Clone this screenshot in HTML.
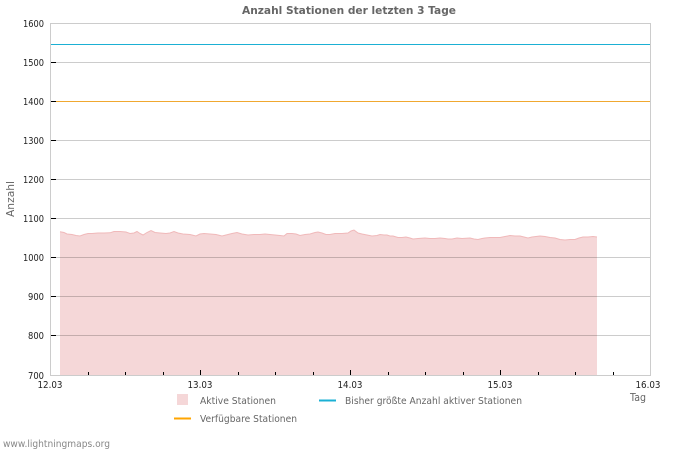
<!DOCTYPE html>
<html>
<head>
<meta charset="utf-8">
<style>
html,body{margin:0;padding:0;background:#fff;}
svg{display:block;}
text{font-family:"DejaVu Sans","Liberation Sans",sans-serif;}
</style>
</head>
<body>
<svg width="700" height="450" viewBox="0 0 700 450" xmlns="http://www.w3.org/2000/svg">
<rect x="0" y="0" width="700" height="450" fill="#fff"/>
<!-- title -->
<text x="349" y="14" text-anchor="middle" font-size="11" font-weight="bold" fill="#666" textLength="214" lengthAdjust="spacingAndGlyphs">Anzahl Stationen der letzten 3 Tage</text>

<!-- fill -->
<polygon fill="#f5d7d8" stroke="none" points="60,375 60,231.7 64,232.5 67,234 72,234.5 76,235.5 80,236 84,234.5 88,233.5 92,233.5 98,233 104,233 110,232.8 114,231.5 120,231.5 126,232 130,233.5 134,233 137,231.5 140,233.5 143,235 147,232.5 151,230.5 155,232.5 160,233 166,233.5 170,233 174,231.5 178,233 183,234 190,234.5 196,236 200,234 204,233.5 210,234 216,234.5 222,236 228,234.5 232,233.5 237,232.5 242,234 248,235 254,234.5 260,234.5 265,234 270,234.5 275,235 280,235.5 284,236 287,233.5 292,233.5 296,234 300,235.5 305,234.5 310,234 315,232.5 318,232 322,233 326,234.5 330,234.5 335,233.5 342,233.5 348,233 351,231 354,230 358,233 362,234 367,235 372,236 377,235.5 380,234.5 384,235 387,235 390,236 393,236 398,237.5 402,237.5 406,237 410,238 413,239 418,238.5 425,238 430,238.5 435,238.5 440,238 445,238.5 448,239 452,239 457,238 462,238.5 470,238 474,239 478,239.5 482,238.5 485,238 490,237.5 495,237.5 500,237.5 505,236.5 510,235.5 515,236 520,236 524,237 528,238 532,237 536,236.5 540,236 545,236.5 550,237.5 555,238 560,239.5 565,240 570,239.5 575,239.5 579,238 583,237 588,237 593,236.5 597,237 597,375"/>
<polyline fill="none" stroke="#f0b9ba" stroke-width="1" points="60,231.7 64,232.5 67,234 72,234.5 76,235.5 80,236 84,234.5 88,233.5 92,233.5 98,233 104,233 110,232.8 114,231.5 120,231.5 126,232 130,233.5 134,233 137,231.5 140,233.5 143,235 147,232.5 151,230.5 155,232.5 160,233 166,233.5 170,233 174,231.5 178,233 183,234 190,234.5 196,236 200,234 204,233.5 210,234 216,234.5 222,236 228,234.5 232,233.5 237,232.5 242,234 248,235 254,234.5 260,234.5 265,234 270,234.5 275,235 280,235.5 284,236 287,233.5 292,233.5 296,234 300,235.5 305,234.5 310,234 315,232.5 318,232 322,233 326,234.5 330,234.5 335,233.5 342,233.5 348,233 351,231 354,230 358,233 362,234 367,235 372,236 377,235.5 380,234.5 384,235 387,235 390,236 393,236 398,237.5 402,237.5 406,237 410,238 413,239 418,238.5 425,238 430,238.5 435,238.5 440,238 445,238.5 448,239 452,239 457,238 462,238.5 470,238 474,239 478,239.5 482,238.5 485,238 490,237.5 495,237.5 500,237.5 505,236.5 510,235.5 515,236 520,236 524,237 528,238 532,237 536,236.5 540,236 545,236.5 550,237.5 555,238 560,239.5 565,240 570,239.5 575,239.5 579,238 583,237 588,237 593,236.5 597,237"/>

<!-- gridlines -->
<g stroke="rgba(0,0,0,0.2)" stroke-width="1" shape-rendering="crispEdges">
<line x1="50" y1="62.5" x2="650" y2="62.5"/>
<line x1="50" y1="140.5" x2="650" y2="140.5"/>
<line x1="50" y1="179.5" x2="650" y2="179.5"/>
<line x1="50" y1="218.5" x2="650" y2="218.5"/>
<line x1="50" y1="257.5" x2="650" y2="257.5"/>
<line x1="50" y1="296.5" x2="650" y2="296.5"/>
<line x1="50" y1="335.5" x2="650" y2="335.5"/>
</g>
<!-- frame -->
<g stroke="#ccc" stroke-width="1" fill="none" shape-rendering="crispEdges">
<line x1="50" y1="23.5" x2="650" y2="23.5"/>
<line x1="50.5" y1="23" x2="50.5" y2="376"/>
<line x1="650.5" y1="23" x2="650.5" y2="376"/>
<line x1="50" y1="375.5" x2="651" y2="375.5"/>
</g>

<!-- series lines -->
<line x1="51" y1="44.5" x2="650" y2="44.5" stroke="#1bb0d4" stroke-width="1.2" shape-rendering="crispEdges"/>
<line x1="51" y1="101.5" x2="650" y2="101.5" stroke="#f0a830" stroke-width="1.2" shape-rendering="crispEdges"/>

<!-- y ticks -->
<g stroke="#000" stroke-width="1" shape-rendering="crispEdges">
<line x1="51" y1="62.5" x2="56" y2="62.5"/>
<line x1="51" y1="101.5" x2="56" y2="101.5"/>
<line x1="51" y1="140.5" x2="56" y2="140.5"/>
<line x1="51" y1="179.5" x2="56" y2="179.5"/>
<line x1="51" y1="218.5" x2="56" y2="218.5"/>
<line x1="51" y1="257.5" x2="56" y2="257.5"/>
<line x1="51" y1="296.5" x2="56" y2="296.5"/>
<line x1="51" y1="335.5" x2="56" y2="335.5"/>
</g>
<!-- x ticks -->
<g stroke="#000" stroke-width="1" shape-rendering="crispEdges">
<line x1="88.5" y1="372" x2="88.5" y2="375"/>
<line x1="125.5" y1="372" x2="125.5" y2="375"/>
<line x1="163.5" y1="372" x2="163.5" y2="375"/>
<line x1="200.5" y1="370" x2="200.5" y2="375"/>
<line x1="238.5" y1="372" x2="238.5" y2="375"/>
<line x1="275.5" y1="372" x2="275.5" y2="375"/>
<line x1="313.5" y1="372" x2="313.5" y2="375"/>
<line x1="350.5" y1="370" x2="350.5" y2="375"/>
<line x1="388.5" y1="372" x2="388.5" y2="375"/>
<line x1="425.5" y1="372" x2="425.5" y2="375"/>
<line x1="463.5" y1="372" x2="463.5" y2="375"/>
<line x1="500.5" y1="370" x2="500.5" y2="375"/>
<line x1="538.5" y1="372" x2="538.5" y2="375"/>
<line x1="575.5" y1="372" x2="575.5" y2="375"/>
<line x1="613.5" y1="372" x2="613.5" y2="375"/>
</g>

<!-- y labels -->
<g font-size="10" fill="#222" text-anchor="end">
<text x="44" y="27" textLength="21" lengthAdjust="spacingAndGlyphs">1600</text>
<text x="44" y="66" textLength="21" lengthAdjust="spacingAndGlyphs">1500</text>
<text x="44" y="105" textLength="21" lengthAdjust="spacingAndGlyphs">1400</text>
<text x="44" y="144" textLength="21" lengthAdjust="spacingAndGlyphs">1300</text>
<text x="44" y="183" textLength="21" lengthAdjust="spacingAndGlyphs">1200</text>
<text x="44" y="222" textLength="21" lengthAdjust="spacingAndGlyphs">1100</text>
<text x="44" y="261" textLength="21" lengthAdjust="spacingAndGlyphs">1000</text>
<text x="44" y="300" textLength="16" lengthAdjust="spacingAndGlyphs">900</text>
<text x="44" y="339" textLength="16" lengthAdjust="spacingAndGlyphs">800</text>
<text x="44" y="379" textLength="16" lengthAdjust="spacingAndGlyphs">700</text>
</g>
<!-- x labels -->
<g font-size="10" fill="#222" text-anchor="middle">
<text x="50" y="388" textLength="25" lengthAdjust="spacingAndGlyphs">12.03</text>
<text x="200" y="388" textLength="25" lengthAdjust="spacingAndGlyphs">13.03</text>
<text x="350" y="388" textLength="25" lengthAdjust="spacingAndGlyphs">14.03</text>
<text x="500" y="388" textLength="25" lengthAdjust="spacingAndGlyphs">15.03</text>
<text x="648" y="388" textLength="25" lengthAdjust="spacingAndGlyphs">16.03</text>
</g>
<text x="638" y="401" text-anchor="middle" font-size="11" fill="#666" textLength="16" lengthAdjust="spacingAndGlyphs">Tag</text>
<text transform="translate(14,199) rotate(-90)" text-anchor="middle" font-size="11" fill="#666" textLength="36" lengthAdjust="spacingAndGlyphs">Anzahl</text>

<!-- legend -->
<rect x="177" y="394" width="11" height="11" fill="#f5d7d8"/>
<text x="200" y="404" font-size="10" fill="#666" textLength="76" lengthAdjust="spacingAndGlyphs">Aktive Stationen</text>
<line x1="319" y1="400.5" x2="336" y2="400.5" stroke="#1bb0d4" stroke-width="2"/>
<text x="345" y="404" font-size="10" fill="#666" textLength="177" lengthAdjust="spacingAndGlyphs">Bisher größte Anzahl aktiver Stationen</text>
<line x1="174" y1="418.5" x2="191" y2="418.5" stroke="#ffa500" stroke-width="2"/>
<text x="200" y="422" font-size="10" fill="#666" textLength="97" lengthAdjust="spacingAndGlyphs">Verfügbare Stationen</text>

<!-- footer -->
<text x="3" y="447" font-size="10" fill="#888" textLength="107" lengthAdjust="spacingAndGlyphs">www.lightningmaps.org</text>
</svg>
</body>
</html>
